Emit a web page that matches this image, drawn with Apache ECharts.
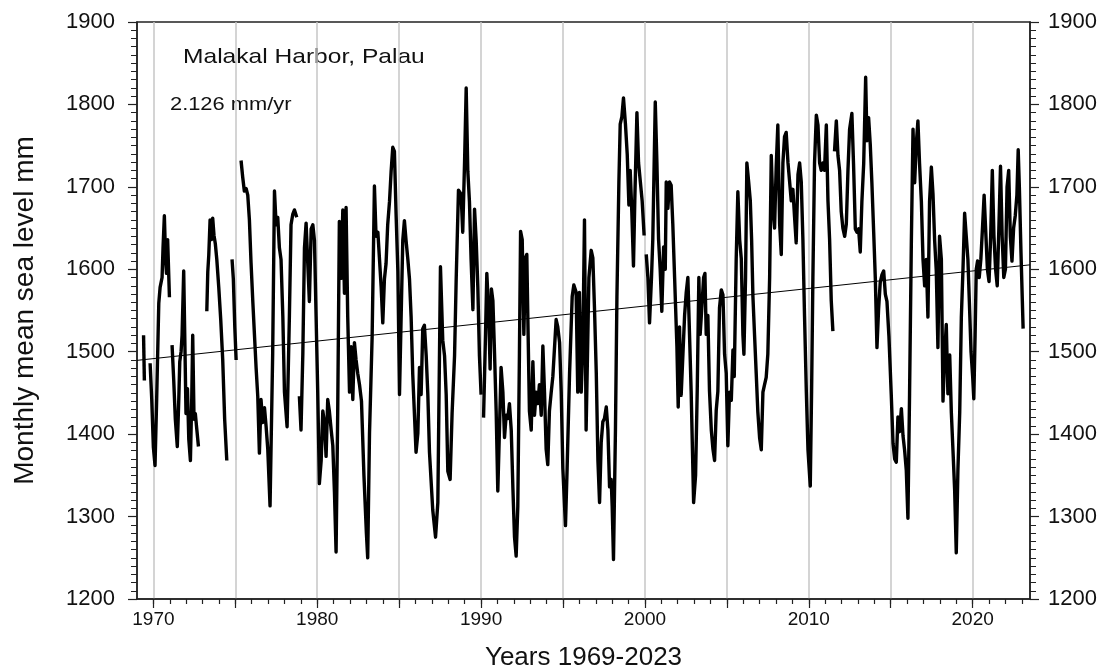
<!DOCTYPE html>
<html>
<head>
<meta charset="utf-8">
<script src="https://cdn.jsdelivr.net/npm/echarts@6/dist/echarts.min.js"></script>
<style>
  html, body { margin: 0; padding: 0; background: #fff; }
  #chart { width: 1112px; height: 668px; }
</style>
</head>
<body>
<div id="chart"></div>
<script>
// monthly mean sea level (mm), [decimal year, mm]
// one array per unbroken stretch of the record
const seg1969a = [[1969.40, 1520], [1969.45, 1465]]
const seg1969b = [
  [1969.8, 1486], [1969.9, 1442], [1970.0, 1384], [1970.1, 1362], [1970.2, 1442], [1970.33, 1559],
  [1970.41, 1578], [1970.53, 1590], [1970.59, 1627], [1970.67, 1665], [1970.75, 1610], [1970.8, 1595],
  [1970.87, 1636], [1970.98, 1566],
]
const seg1971 = [
  [1971.14, 1508], [1971.24, 1466], [1971.34, 1418], [1971.46, 1385], [1971.55, 1442], [1971.61, 1488],
  [1971.69, 1500], [1971.75, 1520], [1971.85, 1598], [1971.93, 1500], [1971.99, 1425], [1972.08, 1455],
  [1972.16, 1394], [1972.26, 1368], [1972.34, 1442], [1972.4, 1520], [1972.48, 1418], [1972.56, 1425],
  [1972.64, 1408], [1972.75, 1385],
]
const seg1973 = [
  [1973.26, 1549], [1973.32, 1597], [1973.38, 1617], [1973.46, 1660], [1973.54, 1636], [1973.62, 1662],
  [1973.7, 1641], [1973.78, 1631], [1973.87, 1612], [1973.99, 1578], [1974.11, 1539], [1974.23, 1491],
  [1974.35, 1418], [1974.48, 1368],
]
const seg1974 = [[1974.8, 1612], [1974.88, 1588], [1974.97, 1529], [1975.05, 1490]]
const seg1975 = [
  [1975.35, 1732], [1975.45, 1712], [1975.55, 1695], [1975.66, 1698], [1975.76, 1690], [1975.86, 1660],
  [1975.96, 1608], [1976.07, 1560], [1976.17, 1520], [1976.27, 1480], [1976.37, 1446], [1976.47, 1377],
  [1976.57, 1442], [1976.67, 1414], [1976.78, 1432], [1976.88, 1409], [1976.98, 1382], [1977.12, 1313],
  [1977.28, 1497], [1977.39, 1695], [1977.49, 1654], [1977.59, 1663], [1977.69, 1626], [1977.79, 1612],
  [1977.9, 1543], [1978.0, 1451], [1978.16, 1409], [1978.3, 1543], [1978.4, 1654], [1978.51, 1667],
  [1978.61, 1672], [1978.75, 1663],
]
const seg1979 = [
  [1978.91, 1446], [1979.01, 1405], [1979.12, 1497], [1979.22, 1626], [1979.32, 1656], [1979.42, 1608],
  [1979.52, 1561], [1979.63, 1649], [1979.73, 1654], [1979.83, 1635], [1979.93, 1543], [1980.03, 1451],
  [1980.13, 1340], [1980.24, 1368], [1980.34, 1428], [1980.44, 1414], [1980.54, 1373], [1980.64, 1442],
  [1980.74, 1428], [1980.85, 1405], [1980.95, 1386], [1981.05, 1330], [1981.15, 1257], [1981.25, 1428],
  [1981.35, 1658], [1981.46, 1589], [1981.56, 1672], [1981.66, 1571], [1981.76, 1675], [1981.86, 1543],
  [1981.97, 1451], [1982.07, 1506], [1982.17, 1442], [1982.27, 1511], [1982.37, 1490], [1982.47, 1474],
  [1982.58, 1460], [1982.7, 1440], [1982.85, 1350], [1983.0, 1280], [1983.08, 1250],
  [1983.19, 1401], [1983.35, 1518], [1983.49, 1701], [1983.59, 1640], [1983.7, 1645], [1983.8, 1612],
  [1983.9, 1579], [1984.0, 1535], [1984.1, 1588], [1984.2, 1607], [1984.3, 1654], [1984.41, 1682],
  [1984.51, 1719], [1984.61, 1748], [1984.71, 1743], [1984.81, 1668], [1984.92, 1598], [1985.02, 1448],
  [1985.12, 1542], [1985.22, 1635], [1985.32, 1659], [1985.42, 1635], [1985.53, 1612], [1985.63, 1588],
  [1985.73, 1542], [1985.83, 1472], [1985.93, 1425], [1986.03, 1378], [1986.14, 1401], [1986.24, 1481],
  [1986.34, 1448], [1986.44, 1528], [1986.54, 1532], [1986.65, 1495], [1986.75, 1448], [1986.85, 1378],
  [1987.05, 1308], [1987.22, 1275], [1987.36, 1317], [1987.46, 1495], [1987.52, 1603], [1987.66, 1514],
  [1987.77, 1495], [1987.87, 1448], [1987.97, 1355], [1988.11, 1345], [1988.23, 1425], [1988.38, 1495],
  [1988.48, 1588], [1988.62, 1696], [1988.78, 1691], [1988.88, 1645], [1988.99, 1729], [1989.09, 1820],
  [1989.19, 1719], [1989.29, 1682], [1989.39, 1612], [1989.5, 1551], [1989.6, 1673], [1989.7, 1635],
  [1989.8, 1579], [1989.9, 1495], [1990.0, 1448],
]
const seg1990s = [
  [1990.15, 1420], [1990.27, 1521], [1990.35, 1595], [1990.47, 1544], [1990.55, 1479], [1990.63, 1576],
  [1990.72, 1562], [1990.82, 1498], [1990.92, 1428], [1991.02, 1331], [1991.12, 1405], [1991.22, 1481],
  [1991.33, 1451], [1991.43, 1396], [1991.53, 1423], [1991.63, 1419], [1991.73, 1437], [1991.84, 1405],
  [1991.94, 1335], [1992.04, 1275], [1992.14, 1252], [1992.24, 1312], [1992.34, 1498], [1992.41, 1646],
  [1992.51, 1636], [1992.61, 1521], [1992.71, 1614], [1992.79, 1618], [1992.87, 1521], [1992.95, 1428],
  [1993.06, 1405], [1993.16, 1488], [1993.26, 1423], [1993.36, 1451], [1993.46, 1437], [1993.56, 1460],
  [1993.67, 1423], [1993.77, 1507], [1993.87, 1451], [1993.97, 1382], [1994.07, 1363], [1994.17, 1428],
  [1994.28, 1451], [1994.38, 1470], [1994.48, 1470], [1994.58, 1539], [1994.68, 1530], [1994.79, 1511],
  [1994.89, 1451], [1994.99, 1358], [1995.15, 1289], [1995.25, 1358], [1995.4, 1474], [1995.56, 1567],
  [1995.66, 1581], [1995.8, 1572], [1995.9, 1451], [1996.0, 1572], [1996.11, 1451], [1996.21, 1507],
  [1996.31, 1660], [1996.41, 1405], [1996.58, 1590], [1996.72, 1623], [1996.82, 1614], [1996.92, 1553],
  [1997.03, 1474], [1997.13, 1368], [1997.23, 1317], [1997.33, 1390], [1997.43, 1415], [1997.53, 1419],
  [1997.64, 1433], [1997.74, 1405], [1997.84, 1336], [1997.94, 1345], [1998.0, 1313], [1998.08, 1248],
  [1998.2, 1405], [1998.29, 1567], [1998.41, 1706], [1998.49, 1776], [1998.59, 1785], [1998.69, 1808],
  [1998.81, 1776], [1998.92, 1739], [1999.02, 1678], [1999.1, 1720], [1999.2, 1669], [1999.3, 1604],
  [1999.38, 1683], [1999.51, 1790], [1999.61, 1729], [1999.71, 1729], [1999.83, 1683], [1999.95, 1641],
]
const seg2000s = [
  [2000.08, 1618], [2000.18, 1590], [2000.28, 1535], [2000.4, 1590], [2000.48, 1637], [2000.63, 1803],
  [2000.73, 1729], [2000.83, 1637], [2000.93, 1600], [2001.03, 1549], [2001.14, 1627], [2001.24, 1600],
  [2001.3, 1706], [2001.4, 1674], [2001.5, 1706], [2001.6, 1702], [2001.7, 1655], [2001.81, 1590],
  [2001.95, 1507], [2002.03, 1433], [2002.11, 1530], [2002.21, 1447], [2002.32, 1498], [2002.42, 1544],
  [2002.52, 1572], [2002.62, 1590], [2002.72, 1521], [2002.82, 1452], [2002.97, 1317], [2003.09, 1350],
  [2003.19, 1452], [2003.29, 1590], [2003.37, 1521], [2003.5, 1563], [2003.58, 1590], [2003.66, 1595],
  [2003.74, 1521], [2003.84, 1544], [2003.94, 1452], [2004.05, 1405], [2004.15, 1382], [2004.25, 1368],
  [2004.35, 1429], [2004.45, 1452], [2004.55, 1553], [2004.66, 1575], [2004.76, 1569], [2004.86, 1497],
  [2004.96, 1474], [2005.06, 1386], [2005.16, 1451], [2005.27, 1441], [2005.37, 1502], [2005.45, 1470],
  [2005.57, 1613], [2005.67, 1694], [2005.78, 1636], [2005.88, 1613], [2005.98, 1520], [2006.04, 1497],
  [2006.14, 1590], [2006.22, 1729], [2006.33, 1706], [2006.43, 1683], [2006.51, 1636], [2006.59, 1567],
  [2006.69, 1520], [2006.79, 1474], [2006.89, 1427], [2007.0, 1395], [2007.1, 1381], [2007.2, 1451],
  [2007.3, 1460], [2007.4, 1469], [2007.5, 1497], [2007.61, 1590], [2007.71, 1738], [2007.81, 1673],
  [2007.91, 1650], [2008.01, 1724], [2008.11, 1775], [2008.22, 1655], [2008.32, 1618], [2008.42, 1729],
  [2008.52, 1761], [2008.62, 1766], [2008.73, 1729], [2008.83, 1706], [2008.93, 1683], [2009.03, 1697],
  [2009.13, 1664], [2009.23, 1632], [2009.34, 1715], [2009.44, 1729], [2009.54, 1706], [2009.64, 1636],
  [2009.74, 1543], [2009.85, 1451], [2009.95, 1381], [2010.09, 1337], [2010.17, 1451], [2010.25, 1590],
  [2010.35, 1729], [2010.46, 1787], [2010.56, 1775], [2010.66, 1729], [2010.76, 1720], [2010.86, 1729],
  [2010.96, 1720], [2011.07, 1775], [2011.17, 1683], [2011.27, 1636], [2011.37, 1562], [2011.47, 1525],
]
const seg2011 = [
  [2011.57, 1743], [2011.68, 1780], [2011.78, 1738], [2011.88, 1720], [2011.98, 1670], [2012.08, 1650],
  [2012.19, 1640], [2012.29, 1655], [2012.39, 1720], [2012.49, 1770], [2012.63, 1789], [2012.73, 1728],
  [2012.84, 1649], [2012.94, 1645], [2013.04, 1649], [2013.14, 1621], [2013.24, 1682], [2013.35, 1728],
  [2013.47, 1833], [2013.55, 1756], [2013.65, 1784], [2013.75, 1752], [2013.85, 1705], [2013.96, 1645],
  [2014.06, 1589], [2014.16, 1505], [2014.26, 1552], [2014.36, 1584], [2014.46, 1593], [2014.57, 1598],
  [2014.67, 1570], [2014.77, 1561], [2014.89, 1519], [2015.03, 1449], [2015.14, 1389], [2015.24, 1370],
  [2015.34, 1366], [2015.44, 1421], [2015.54, 1403], [2015.65, 1431], [2015.75, 1398], [2015.85, 1380],
  [2015.95, 1356], [2016.05, 1298], [2016.15, 1449], [2016.26, 1635], [2016.36, 1770], [2016.46, 1705],
  [2016.56, 1752], [2016.66, 1780], [2016.76, 1728], [2016.87, 1682], [2016.97, 1612], [2017.07, 1580],
  [2017.17, 1612], [2017.27, 1542], [2017.37, 1682], [2017.48, 1724], [2017.58, 1691], [2017.68, 1635],
  [2017.78, 1598], [2017.88, 1505], [2017.98, 1640], [2018.09, 1612], [2018.19, 1440], [2018.29, 1496],
  [2018.39, 1533], [2018.49, 1449], [2018.6, 1496], [2018.7, 1426], [2018.8, 1380], [2018.9, 1333],
  [2019.0, 1256], [2019.1, 1356], [2019.21, 1426], [2019.31, 1542], [2019.41, 1600], [2019.51, 1668],
  [2019.61, 1640], [2019.71, 1612], [2019.8, 1560], [2019.9, 1500], [2020.0, 1470], [2020.07, 1443],
  [2020.15, 1520], [2020.22, 1600], [2020.3, 1610], [2020.4, 1590], [2020.5, 1612], [2020.6, 1650],
  [2020.7, 1690], [2020.8, 1645], [2020.9, 1600], [2021.0, 1585], [2021.1, 1640], [2021.2, 1720],
  [2021.3, 1640], [2021.4, 1600], [2021.5, 1580], [2021.6, 1650], [2021.7, 1725], [2021.8, 1640],
  [2021.9, 1590], [2022.0, 1600], [2022.1, 1700], [2022.2, 1720], [2022.3, 1640], [2022.4, 1610],
  [2022.5, 1650], [2022.6, 1665], [2022.7, 1690], [2022.78, 1745], [2022.85, 1700], [2022.95, 1620],
  [2023.08, 1528],
]

// linear trend, 2.126 mm/yr
const trend = [[1969, 1489.5], [2023.5, 1605.4]]
const longTicks = [1970, 1975, 1980, 1985, 1990, 1995, 2000, 2005, 2010, 2015, 2020]

const segments = [seg1969a, seg1969b, seg1971, seg1973, seg1974, seg1975, seg1979, seg1990s, seg2000s, seg2011]

const FONT = 'Liberation Sans, Arial, sans-serif'
const AXIS_COLOR = '#222'

const yAxisBase = {
  type: 'value',
  min: 1200,
  max: 1900,
  interval: 100,
  axisLine: {show: true, lineStyle: {color: AXIS_COLOR, width: 1.5}},
  axisTick: {show: true, length: 9, lineStyle: {color: AXIS_COLOR, width: 1.2}},
  minorTick: {show: true, splitNumber: 10, length: 6, lineStyle: {color: AXIS_COLOR, width: 1}},
  axisLabel: {fontFamily: FONT, fontSize: 22, color: '#111', margin: 22, formatter: (v) => String(v)},
  splitLine: {show: false},
}

const option = {
  backgroundColor: '#ffffff',
  animation: false,
  grid: {
    left: 137,
    right: 82,
    top: 22,
    bottom: 69,
    show: true,
    borderColor: AXIS_COLOR,
    borderWidth: 1.5,
    containLabel: false,
    outerBoundsMode: 'none',
  },
  xAxis: [
    {
      type: 'value',
      position: 'bottom',
      min: 1969,
      max: 2023.5,
      interval: 1,
      name: 'Years 1969-2023',
      nameLocation: 'middle',
      nameGap: 46,
      nameTextStyle: {fontFamily: FONT, fontSize: 26, color: '#111'},
      axisLine: {show: true, onZero: false, lineStyle: {color: AXIS_COLOR, width: 1.5}},
      axisTick: {show: true, length: 5, lineStyle: {color: AXIS_COLOR, width: 1.2}},
      axisLabel: {
        fontFamily: FONT,
        fontSize: 19,
        color: '#111',
        margin: 11,
        showMinLabel: false,
        showMaxLabel: false,
        formatter: (v) => (Math.round(v) % 10 === 0 && Math.abs(v - Math.round(v)) < 1e-6 ? String(Math.round(v)) : ''),
      },
      // gridline every 5 years: colours cycle per tick, tick 0 is 1969
      splitLine: {
        show: true,
        lineStyle: {
          color: ['rgba(0,0,0,0)', '#c6c6c6', 'rgba(0,0,0,0)', 'rgba(0,0,0,0)', 'rgba(0,0,0,0)'],
          width: 1.5,
        },
      },
    },
    {
      // longer ticks every 5 years
      type: 'value',
      position: 'bottom',
      min: 1969,
      max: 2023.5,
      axisLine: {show: false, onZero: false},
      axisTick: {show: true, length: 9, customValues: longTicks, lineStyle: {color: AXIS_COLOR, width: 1.2}},
      axisLabel: {show: false},
      splitLine: {show: false},
    },
  ],
  yAxis: [
    {
      ...yAxisBase,
      position: 'left',
      name: 'Monthly mean sea level mm',
      nameLocation: 'middle',
      nameGap: 98,
      nameRotate: 90,
      nameTextStyle: {fontFamily: FONT, fontSize: 28, color: '#111'},
    },
    {...yAxisBase, position: 'right', axisLabel: {...yAxisBase.axisLabel, margin: 18}},
  ],
  graphic: [
    {
      type: 'text',
      x: 183,
      y: 57.5,
      scaleX: 1.17,
      style: {x: 0, y: 0, text: 'Malakal Harbor, Palau', font: '21px ' + FONT, fill: '#111', verticalAlign: 'middle'},
    },
    {
      type: 'text',
      x: 170,
      y: 105,
      scaleX: 1.15,
      style: {x: 0, y: 0, text: '2.126 mm/yr', font: '19px ' + FONT, fill: '#111', verticalAlign: 'middle'},
    },
  ],
  series: [
    ...segments.map((seg) => ({
      type: 'line',
      data: seg,
      showSymbol: false,
      symbol: 'none',
      silent: true,
      z: 3,
      lineStyle: {color: '#000', width: 3.4, join: 'round'},
    })),
    {
      type: 'line',
      data: trend,
      showSymbol: false,
      symbol: 'none',
      silent: true,
      z: 4,
      lineStyle: {color: '#000', width: 1},
    },
  ],
}

const chart = echarts.init(document.getElementById('chart'), null, {renderer: 'canvas'})
chart.setOption(option)
</script>
</body>
</html>
